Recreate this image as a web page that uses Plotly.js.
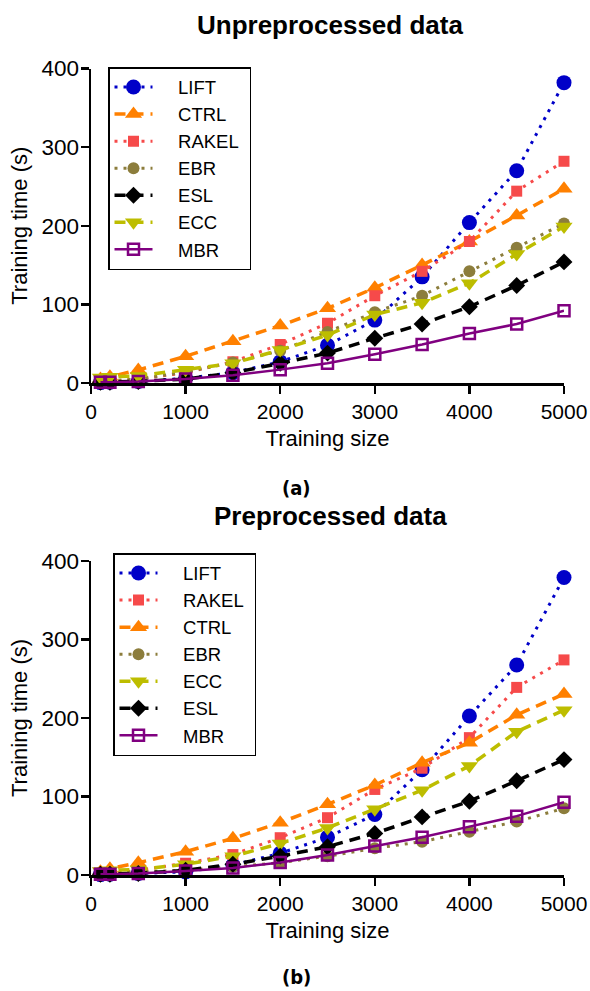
<!DOCTYPE html>
<html>
<head>
<meta charset="utf-8">
<script src="https://cdn.plot.ly/plotly-3.0.1.min.js"></script>
<style>html,body{margin:0;padding:0;background:#fff;}#chart{width:590px;height:991px;}</style>
</head>
<body>
<div id="chart"></div>
<script>
const trainingSizes = [100, 200, 500, 1000, 1500, 2000, 2500, 3000, 3500, 4000, 4500, 5000];

// (a) Unpreprocessed data
const liftA  = [0.5, 1, 2, 6, 13, 27, 48, 80, 135, 204, 270, 382];
const ctrlA  = [5, 8, 16.6, 34, 53, 73, 95, 121, 150, 180, 213, 247];
const rakelA = [1, 2, 5, 13, 27, 49, 76, 111, 142, 180, 244, 282];
const ebrA   = [3, 3, 5, 14, 26, 41, 65, 90, 111, 142, 172, 203];
const eslA   = [1, 1, 2, 5, 13, 25, 38, 57, 75, 97, 124, 154];
const eccA   = [7, 8, 9, 17, 25, 42, 61, 87, 102, 127, 164, 199];
const mbrA   = [1, 1, 2, 5, 10, 17, 25, 36.5, 49, 63, 75, 92];

// (b) Preprocessed data
const liftB  = [0.5, 1, 2, 4, 12.7, 27.6, 48, 77, 134, 202.5, 267.5, 379];
const rakelB = [1, 2, 6, 15, 26, 47.5, 73, 109, 136, 175, 239, 274];
const ctrlB  = [4, 8, 15.7, 29.7, 46.7, 66.7, 90, 114.6, 143, 168.6, 204, 230.6];
const ebrB   = [3, 3, 4, 6, 10.6, 15.7, 24, 34, 42.5, 55, 68, 85];
const eccB   = [5, 6, 7, 13.6, 24, 40, 60, 83.6, 108, 139, 182.6, 210];
const eslB   = [1, 1, 2, 6, 13.6, 24, 36, 53, 74, 94, 120, 147];
const mbrB   = [1, 1, 2, 5, 9, 16, 25.5, 37, 48, 61.6, 75, 92.6];

const xTicks = [0, 1000, 2000, 3000, 4000, 5000];
const yTicks = [0, 100, 200, 300, 400];

const FONT = "Liberation Sans, Arial, sans-serif";
const DOT = "3px,6px";
const DASH = "11px,7px";
const PAD = "\u00a0\u00a0\u00a0\u00a0";

const styles = {
  LIFT:  {color: "#0000c8", dash: DOT,  symbol: "circle", size: 15, width: 3},
  CTRL:  {color: "#ff8000", dash: DASH, symbol: "triangle-up", size: 15, width: 3.5},
  RAKEL: {color: "#f64a4a", dash: DOT,  symbol: "square", size: 11, width: 3},
  EBR:   {color: "#8c7d3c", dash: DOT,  symbol: "circle", size: 12, width: 3},
  ESL:   {color: "#000000", dash: DASH, symbol: "diamond", size: 13, width: 3.5},
  ECC:   {color: "#bdbd00", dash: DASH, symbol: "triangle-down", size: 15, width: 3.5},
  MBR:   {color: "#800080", dash: "solid", symbol: "square-open", size: 11, width: 2.5}
};

function mk(name, ys, xa, ya, legend) {
  const s = styles[name];
  return {
    type: "scatter", mode: "lines+markers", name: PAD + name + "\u00a0",
    x: trainingSizes, y: ys, xaxis: xa, yaxis: ya, legend: legend,
    cliponaxis: false,
    line: {color: s.color, dash: s.dash, width: s.width},
    marker: {color: s.color, symbol: s.symbol, size: s.size,
             line: {color: s.color, width: s.symbol === "square-open" ? 2.5 : 0}}
  };
}

const data = [
  mk("LIFT", liftA, "x", "y", "legend"),
  mk("CTRL", ctrlA, "x", "y", "legend"),
  mk("RAKEL", rakelA, "x", "y", "legend"),
  mk("EBR", ebrA, "x", "y", "legend"),
  mk("ESL", eslA, "x", "y", "legend"),
  mk("ECC", eccA, "x", "y", "legend"),
  mk("MBR", mbrA, "x", "y", "legend"),
  mk("LIFT", liftB, "x2", "y2", "legend2"),
  mk("RAKEL", rakelB, "x2", "y2", "legend2"),
  mk("CTRL", ctrlB, "x2", "y2", "legend2"),
  mk("EBR", ebrB, "x2", "y2", "legend2"),
  mk("ECC", eccB, "x2", "y2", "legend2"),
  mk("ESL", eslB, "x2", "y2", "legend2"),
  mk("MBR", mbrB, "x2", "y2", "legend2")
];

function xaxis(anchor) {
  return {
    anchor: anchor, domain: [91/590, 564/590], range: [0, 5000],
    tickvals: xTicks, ticktext: xTicks.map(String),
    showgrid: false, zeroline: false, showline: true, linecolor: "#000", linewidth: 2.5,
    ticks: "outside", ticklen: 8, tickwidth: 2.5, tickcolor: "#000",
    tickfont: {family: FONT, size: 21, color: "#000"},
    title: {text: "Training size", font: {family: FONT, size: 22, color: "#000"}, standoff: 9}
  };
}
function yaxis(anchor, dom) {
  return {
    anchor: anchor, domain: dom, range: [0, 400],
    tickvals: yTicks, ticktext: yTicks.map(String),
    showgrid: false, zeroline: false, showline: true, linecolor: "#000", linewidth: 2.5,
    ticks: "outside", ticklen: 8, tickwidth: 2.5, tickcolor: "#000",
    ticklabelstandoff: -3,
    tickfont: {family: FONT, size: 22.5, color: "#000"},
    title: {text: "Training time (s)", font: {family: FONT, size: 22, color: "#000"}, standoff: 8}
  };
}

const legendBase = {
  bordercolor: "#000", borderwidth: 1.5, bgcolor: "#fff",
  font: {family: FONT, size: 18.5, color: "#000"},
  xanchor: "left", yanchor: "top", itemwidth: 38, traceorder: "normal"
};

const layout = {
  width: 590, height: 991,
  margin: {l: 0, r: 0, t: 0, b: 0},
  paper_bgcolor: "#fff", plot_bgcolor: "#fff",
  showlegend: true,
  xaxis: xaxis("y"),
  yaxis: yaxis("x", [(991-383)/991, (991-68.5)/991]),
  xaxis2: xaxis("y2"),
  yaxis2: yaxis("x2", [(991-875)/991, (991-561)/991]),
  legend: Object.assign({}, legendBase, {x: 108/590, y: (991-67)/991}),
  legend2: Object.assign({}, legendBase, {x: 113/590, y: (991-553)/991}),
  annotations: [
    {text: "<b>Unpreprocessed data</b>", xref: "paper", yref: "paper", x: 330/590, y: (991-25)/991,
     xanchor: "center", yanchor: "middle", showarrow: false, font: {family: FONT, size: 26, color: "#000"}},
    {text: "<b>Preprocessed data</b>", xref: "paper", yref: "paper", x: 330/590, y: (991-516)/991,
     xanchor: "center", yanchor: "middle", showarrow: false, font: {family: FONT, size: 26, color: "#000"}},
    {text: "<b>(a)</b>", xref: "paper", yref: "paper", x: 296/590, y: (991-488)/991,
     xanchor: "center", yanchor: "middle", showarrow: false,
     font: {family: "Liberation Sans Narrow, DejaVu Sans Condensed, sans-serif", size: 20, color: "#000"}},
    {text: "<b>(b)</b>", xref: "paper", yref: "paper", x: 296/590, y: (991-977)/991,
     xanchor: "center", yanchor: "middle", showarrow: false,
     font: {family: "Liberation Sans Narrow, DejaVu Sans Condensed, sans-serif", size: 20, color: "#000"}}
  ]
};

Plotly.newPlot("chart", data, layout, {displayModeBar: false, staticPlot: true});
</script>
</body>
</html>
